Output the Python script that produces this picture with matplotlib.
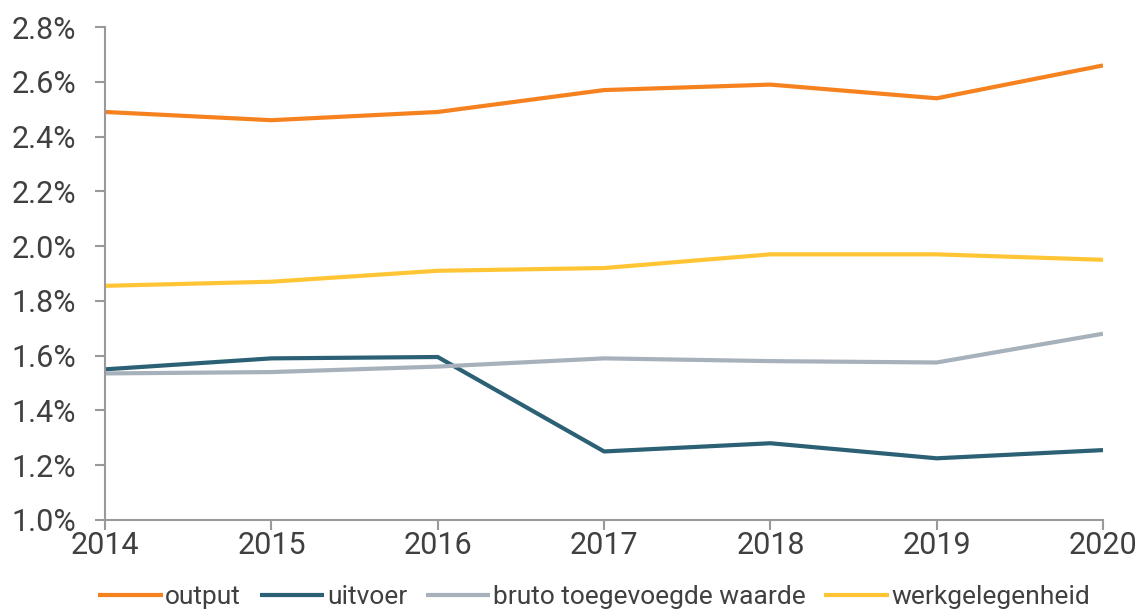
import matplotlib
matplotlib.use("Agg")
from matplotlib import pyplot as plt
from matplotlib.ticker import FuncFormatter

years = [2014, 2015, 2016, 2017, 2018, 2019, 2020]
output = [2.49, 2.46, 2.49, 2.57, 2.59, 2.54, 2.66]
uitvoer = [1.55, 1.59, 1.595, 1.25, 1.28, 1.225, 1.255]
bruto = [1.535, 1.54, 1.56, 1.59, 1.58, 1.575, 1.68]
werk = [1.855, 1.87, 1.91, 1.92, 1.97, 1.97, 1.95]

series = [
    ("output", output, "#F5821F"),
    ("uitvoer", uitvoer, "#2B6075"),
    ("bruto toegevoegde waarde", bruto, "#A7B1BB"),
    ("werkgelegenheid", werk, "#FFC535"),
]

plt.rcParams["font.family"] = ["Roboto", "DejaVu Sans"]

fig = plt.figure(figsize=(11.43, 6.16), dpi=100)
ax = fig.add_axes([0.092, 0.156, 0.873, 0.8])

for name, vals, col in series:
    ax.plot(years, vals, color=col, lw=3, label=name, solid_capstyle="butt")

ax.set_xlim(2014, 2020)
ax.set_ylim(1.0, 2.8)
ax.set_yticks([1.0 + 0.2 * i for i in range(10)])
ax.yaxis.set_major_formatter(FuncFormatter(lambda v, p: "%.1f%%" % v))
ax.set_xticks(years)

for s in ["top", "right"]:
    ax.spines[s].set_visible(False)
for s in ["left", "bottom"]:
    ax.spines[s].set_color("#999999")
    ax.spines[s].set_linewidth(1.5)
ax.tick_params(axis="both", colors="#999999", width=1.5, length=7,
               labelcolor="#404040", labelsize=22)
ax.tick_params(axis="y", pad=14)
ax.tick_params(axis="x", pad=1)

ax.legend(loc="upper center", bbox_to_anchor=(0.49, -0.1), ncol=4,
          frameon=False, fontsize=19, handlelength=2.45, handletextpad=0.1,
          columnspacing=0.7, labelcolor="#404040", borderpad=0.1)

fig.savefig("out.png", dpi=100)
